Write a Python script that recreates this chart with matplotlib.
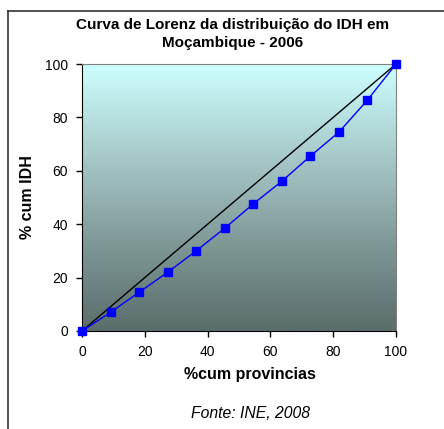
import numpy as np
import matplotlib
matplotlib.use("Agg")
import matplotlib.pyplot as plt
from matplotlib.colors import LinearSegmentedColormap
from matplotlib.lines import Line2D

plt.rcParams["font.family"] = ["Liberation Sans", "DejaVu Sans"]

# cumulative share of provinces (11 provinces) and of IDH
pct_provincias = [0, 9.09, 18.18, 27.27, 36.36, 45.45, 54.55, 63.64, 72.73, 81.82, 90.91, 100]
pct_idh = [0, 7.0, 14.5, 22.0, 30.0, 38.5, 47.6, 56.1, 65.5, 74.5, 86.5, 100]
igualdade = pct_provincias

fig = plt.figure(figsize=(4.44, 4.29), dpi=100)
W, H = 444, 429
ax = fig.add_axes([82 / W, 1 - 331 / H, 314 / W, 267 / H])

# gradient background
cmap = LinearSegmentedColormap.from_list("bg", ["#5a6d6b", "#7f9997", "#a9cbcb", "#ccffff"])
grad = np.linspace(0, 1, 256).reshape(-1, 1)
ax.imshow(grad, cmap=cmap, aspect="auto", extent=[0, 100, 0, 100], origin="lower", zorder=0)

ax.plot(pct_provincias, igualdade, color="black", lw=1, zorder=2)
ax.plot(pct_provincias, pct_idh, color="blue", lw=1, marker="s", ms=6,
        markerfacecolor="blue", markeredgecolor="blue", zorder=3, clip_on=False)

ax.set_xlim(0, 100)
ax.set_ylim(0, 100)
ax.set_xticks([0, 20, 40, 60, 80, 100])
ax.set_yticks([0, 20, 40, 60, 80, 100])
ax.tick_params(direction="out", length=4, width=1, labelsize=10, pad=6)
ax.spines["top"].set_color("#808080")
ax.spines["right"].set_color("#808080")
for s in ["left", "bottom"]:
    ax.spines[s].set_color("black")

ax.set_xlabel("%cum provincias", fontsize=11.5, fontweight="bold")
ax.xaxis.set_label_coords((250 - 82) / 314, -44 / 267)
ax.xaxis.label.set_va("center")
ax.set_ylabel("% cum IDH", fontsize=11.5, fontweight="bold", labelpad=7)

fig.text(233 / W, 1 - 34 / H, "Curva de Lorenz da distribuição do IDH em\nMoçambique - 2006",
         ha="center", va="center", fontsize=11, fontweight="bold", linespacing=1.4)
fig.text(250 / W, 1 - 413 / H, "Fonte: INE, 2008", ha="center", va="center",
         fontsize=11.3, style="italic")

# outer frame (left and top)
fig.add_artist(Line2D([8 / W, 8 / W], [0, 1 - 11 / H], color="#333333", lw=1.2))
fig.add_artist(Line2D([8 / W, 1], [1 - 11 / H, 1 - 11 / H], color="#333333", lw=1.2))

fig.savefig("out.png", dpi=100)
